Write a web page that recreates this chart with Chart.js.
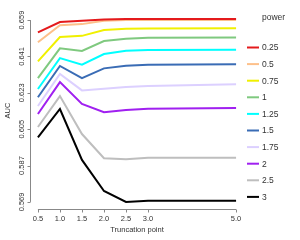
<!DOCTYPE html>
<html>
<head>
<meta charset="utf-8">
<script src="https://cdn.jsdelivr.net/npm/chart.js@4/dist/chart.umd.min.js"></script>
<style>
  html, body { margin: 0; padding: 0; background: #fff; }
  #wrap { width: 300px; height: 240px; }
</style>
</head>
<body>
<div id="wrap"><canvas id="aucChart" width="300" height="240"></canvas></div>
<script>
const truncPoints = [0.5, 1.0, 1.5, 2.0, 2.5, 3.0, 5.0];
const xTicks = [0.5, 1.0, 1.5, 2.0, 2.5, 3.0, 5.0];
const yTicks = [0.569, 0.587, 0.605, 0.623, 0.641, 0.659];
const powers = ['0.25', '0.5', '0.75', '1', '1.25', '1.5', '1.75', '2', '2.5', '3'];
const lineColors = ['#e41a1c', '#fdc08a', '#f0f000', '#7fc97f', '#00ffff', '#3a6cb5', '#dcd0ff', '#a020f0', '#bebebe', '#000000'];

const auc025 = [0.6529, 0.6580, 0.6587, 0.6593, 0.6595, 0.6595, 0.6595];
const auc05  = [0.6480, 0.6565, 0.6570, 0.6587, 0.6591, 0.6591, 0.6591];
const auc075 = [0.6386, 0.6506, 0.6512, 0.6541, 0.6547, 0.6548, 0.6549];
const auc1   = [0.6303, 0.6450, 0.6437, 0.6486, 0.6498, 0.6502, 0.6504];
const auc125 = [0.6249, 0.6402, 0.6369, 0.6422, 0.6438, 0.6442, 0.6443];
const auc15  = [0.6208, 0.6363, 0.6303, 0.6351, 0.6364, 0.6369, 0.6372];
const auc175 = [0.6165, 0.6324, 0.6242, 0.6250, 0.6259, 0.6264, 0.6272];
const auc2   = [0.6125, 0.6283, 0.6175, 0.6134, 0.6145, 0.6151, 0.6155];
const auc25  = [0.6061, 0.6214, 0.6026, 0.5906, 0.5901, 0.5909, 0.5909];
const auc3   = [0.6010, 0.6150, 0.5898, 0.5744, 0.5690, 0.5696, 0.5696];
const aucSeries = [auc025, auc05, auc075, auc1, auc125, auc15, auc175, auc2, auc25, auc3];

const FONT = '"Liberation Sans", Arial, sans-serif';

// R-style axes, titles and legend
const baseAxes = {
  id: 'baseAxes',
  afterDraw(chart) {
    const ctx = chart.ctx;
    const xs = chart.scales.x, ys = chart.scales.y;
    const area = chart.chartArea;
    ctx.save();
    ctx.strokeStyle = '#888';
    ctx.fillStyle = '#333';
    ctx.lineWidth = 1;

    // x axis
    const xb = Math.round(area.bottom) + 0.5;
    ctx.beginPath();
    ctx.moveTo(xs.getPixelForValue(xTicks[0]), xb);
    ctx.lineTo(xs.getPixelForValue(xTicks[xTicks.length - 1]), xb);
    xTicks.forEach(t => {
      const px = Math.round(xs.getPixelForValue(t)) + 0.5;
      ctx.moveTo(px, xb);
      ctx.lineTo(px, xb + 3);
    });
    ctx.stroke();
    ctx.font = '7.5px ' + FONT;
    ctx.textAlign = 'center';
    ctx.textBaseline = 'middle';
    xTicks.forEach(t => ctx.fillText(t.toFixed(1), xs.getPixelForValue(t), xb + 9));
    ctx.fillText('Truncation point', (area.left + area.right) / 2, 230);

    // y axis
    const yl = Math.round(area.left) + 0.5;
    ctx.beginPath();
    ctx.moveTo(yl, ys.getPixelForValue(yTicks[0]));
    ctx.lineTo(yl, ys.getPixelForValue(yTicks[yTicks.length - 1]));
    yTicks.forEach(t => {
      const py = Math.round(ys.getPixelForValue(t)) + 0.5;
      ctx.moveTo(yl, py);
      ctx.lineTo(yl - 3, py);
    });
    ctx.stroke();
    yTicks.forEach(t => {
      ctx.save();
      ctx.translate(22, ys.getPixelForValue(t));
      ctx.rotate(-Math.PI / 2);
      ctx.fillText(t.toFixed(3), 0, 0);
      ctx.restore();
    });
    ctx.save();
    ctx.translate(8, (area.top + area.bottom) / 2);
    ctx.rotate(-Math.PI / 2);
    ctx.fillText('AUC', 0, 0);
    ctx.restore();

    // legend
    ctx.font = '8.5px ' + FONT;
    ctx.textAlign = 'left';
    ctx.fillText('power', 262, 18);
    powers.forEach((p, i) => {
      const y = 47.5 + i * 16.6;
      ctx.strokeStyle = lineColors[i];
      ctx.lineWidth = 2;
      ctx.beginPath();
      ctx.moveTo(247, y);
      ctx.lineTo(259, y);
      ctx.stroke();
      ctx.fillText(p, 262, y + 0.5);
    });
    ctx.restore();
  }
};

const datasets = aucSeries.map((vals, i) => ({
  label: powers[i],
  data: truncPoints.map((x, j) => ({ x: x, y: vals[j] })),
  borderColor: lineColors[i],
  borderWidth: 2,
  pointRadius: 0,
  tension: 0,
  fill: false
}));

new Chart(document.getElementById('aucChart').getContext('2d'), {
  type: 'line',
  data: { datasets: datasets },
  options: {
    responsive: false,
    animation: false,
    layout: { padding: { left: 30, right: 56, top: 12, bottom: 31 } },
    plugins: { legend: { display: false }, tooltip: { enabled: false } },
    scales: {
      x: { type: 'linear', min: 0.32, max: 5.18, display: false },
      y: { type: 'linear', min: 0.5655, max: 0.6630, display: false }
    }
  },
  plugins: [baseAxes]
});
</script>
</body>
</html>
